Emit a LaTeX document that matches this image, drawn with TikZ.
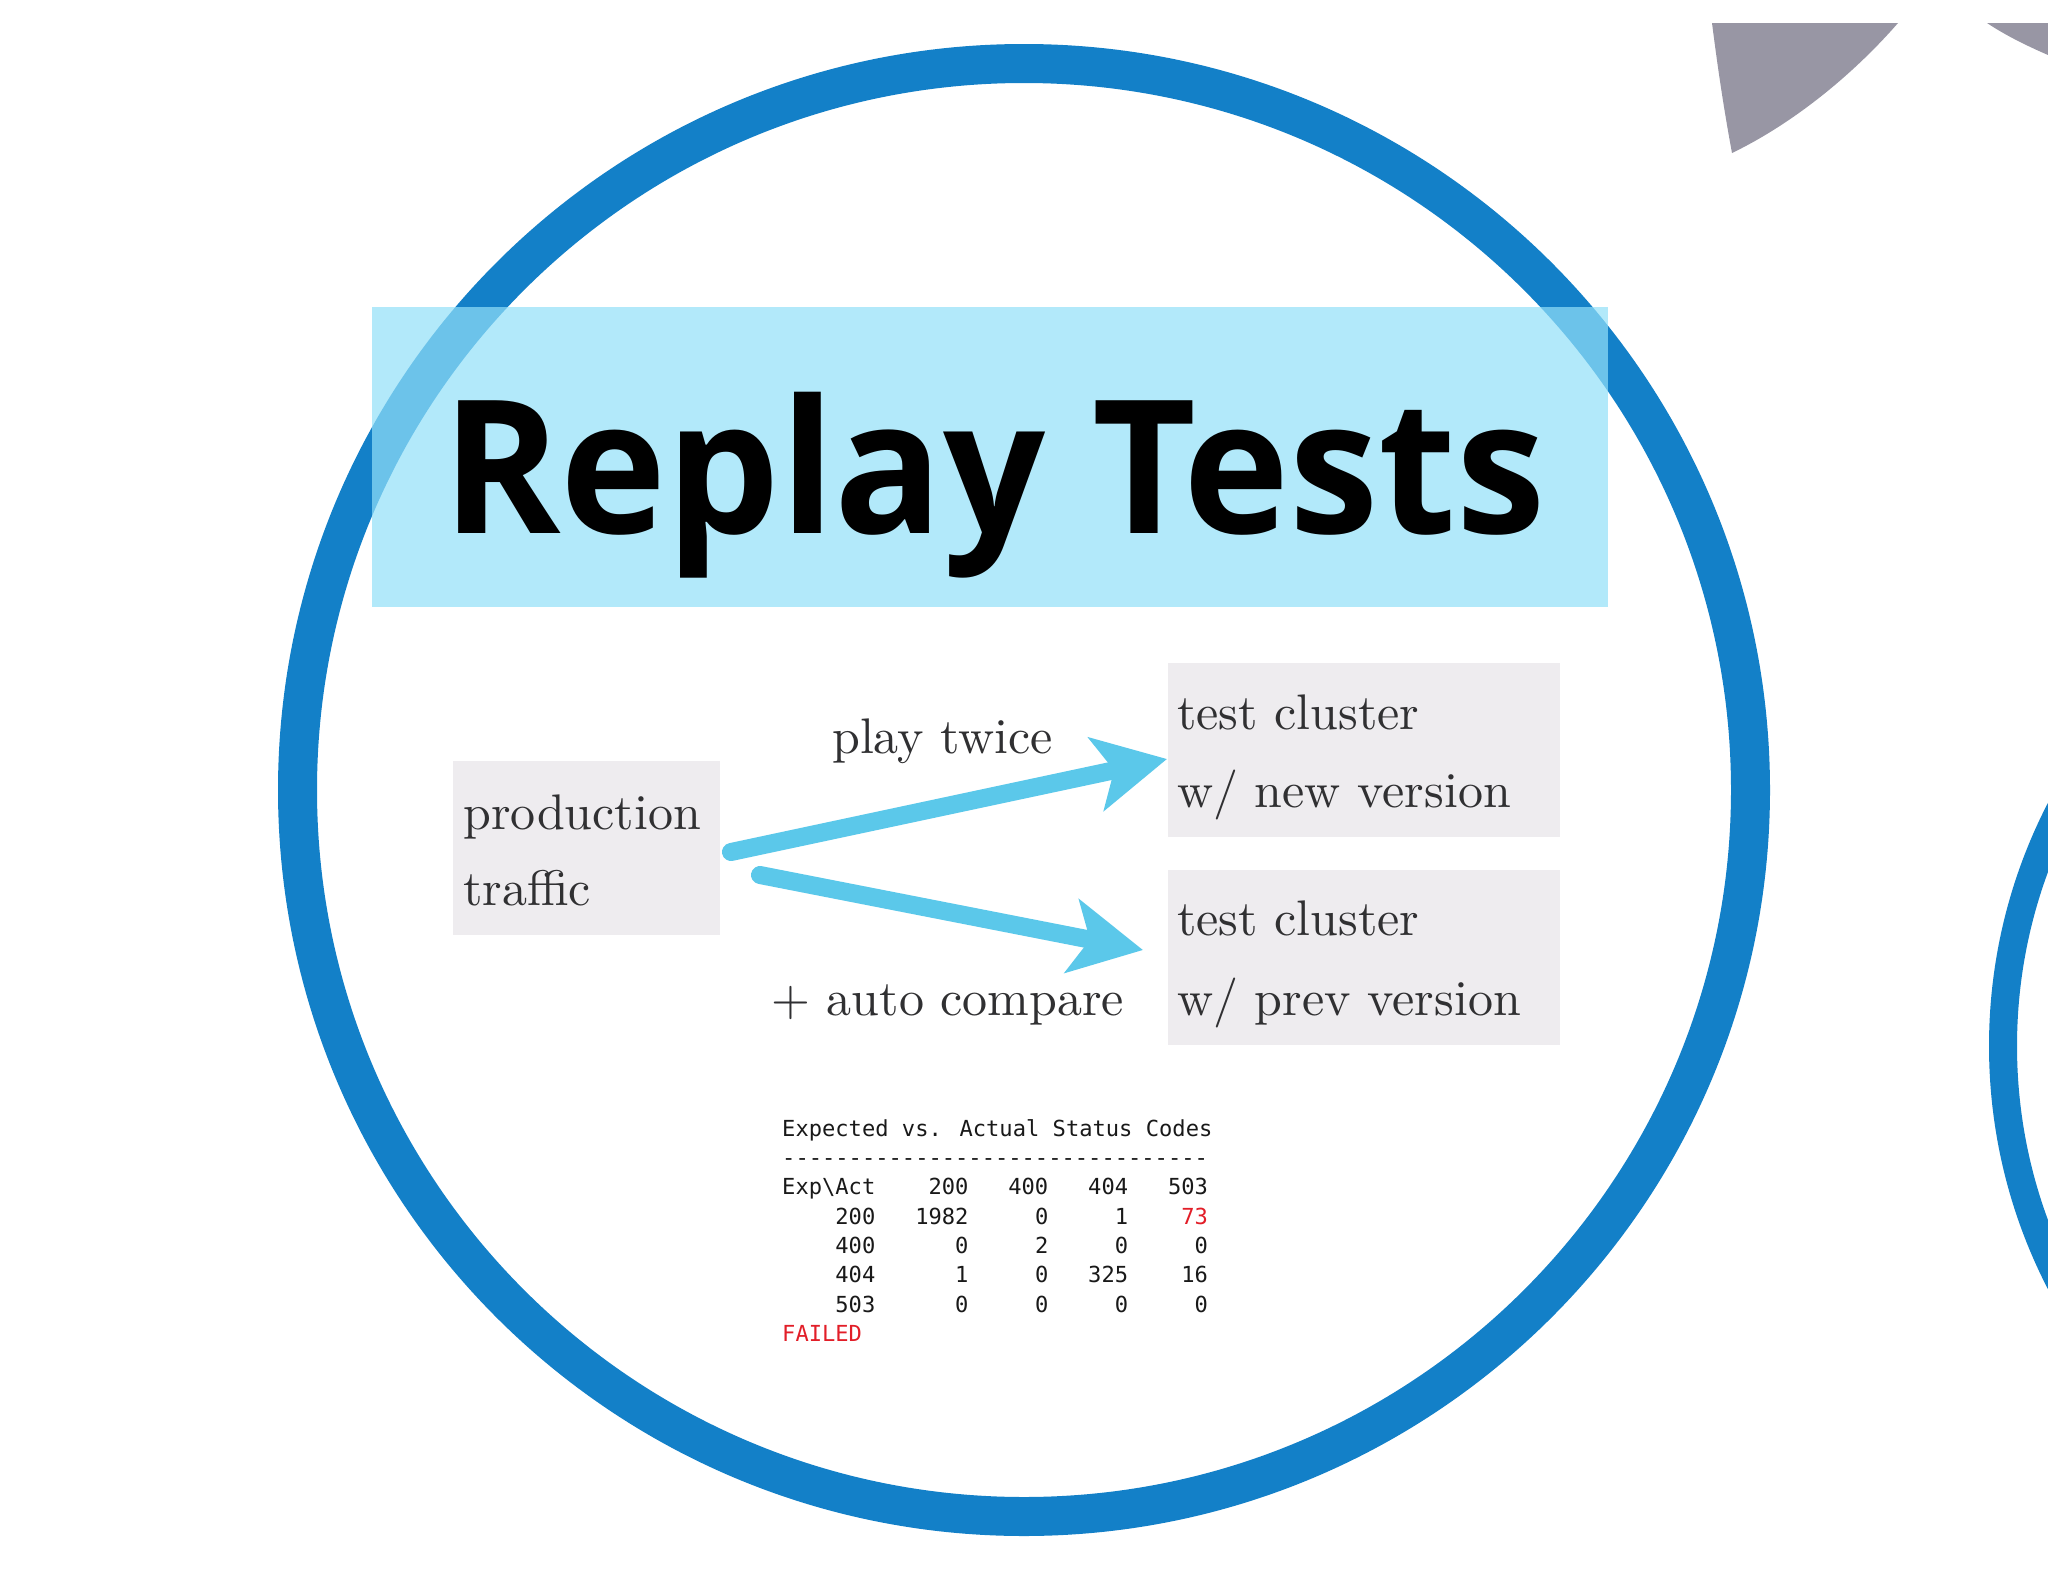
\documentclass[tikz,border=0pt]{standalone}
\usepackage{fontspec}
\newfontfamily\titlefont{Open Sans}
\newfontfamily\monof{DejaVu Sans Mono}[Ligatures=TeXOff]
\newfontfamily\serifx{lmroman10-regular.otf}
\usetikzlibrary{arrows.meta}
\definecolor{ringblue}{RGB}{19,128,200}
\definecolor{titlefill}{RGB}{146,224,249}
\definecolor{boxgray}{RGB}{238,236,239}
\definecolor{arrowcyan}{RGB}{91,200,234}
\definecolor{shapegray}{RGB}{152,150,164}
\definecolor{txtgray}{RGB}{48,48,50}
\definecolor{failred}{RGB}{226,30,40}
\tikzset{
  clusterbox/.style={fill=boxgray, draw=none, inner sep=0pt, anchor=north west},
  lbl/.style={anchor=base west, inner sep=0pt, text=txtgray, font=\serifx\fontsize{50}{60}\selectfont},
  tbl/.style={anchor=base west, inner sep=0pt, text=black!90, font=\monof\fontsize{22.1}{29}\selectfont},
  bigarrow/.style={draw=arrowcyan, line width=18pt, line cap=round,
    -{Stealth[length=72pt, width=74pt, inset=18pt, fill=arrowcyan]}},
}
\begin{document}
\begin{tikzpicture}[x=1pt,y=-1pt]
\useasboundingbox (0,0) rectangle (2048,1582);
\fill[white] (0,0) rectangle (2048,1582);
% grey shapes at top right
\fill[shapegray] (1712,23) .. controls (1718,70) and (1724,110) .. (1732,153)
  .. controls (1790,125) and (1850,78) .. (1898,23) -- cycle;
\fill[shapegray] (1987,23) .. controls (2005,35) and (2025,45) .. (2048,55) -- (2048,23) -- cycle;
% circles
\draw[ringblue, line width=28pt] (2519,1046) circle[radius=516];
\draw[ringblue, line width=39pt] (1024,790) circle[radius=726.5];
% title
\node[fill=titlefill, fill opacity=0.7, minimum width=1236pt, minimum height=300pt,
  inner sep=0pt, anchor=north west] (titlebox) at (372,307) {};
\node[anchor=base, inner sep=0pt, text=black, xscale=0.965,
  font=\titlefont\bfseries\fontsize{186}{186}\selectfont] (title) at (994,533) {Replay Tests};
% boxes
\node[clusterbox, minimum width=267pt, minimum height=174pt] (prod) at (453,761) {};
\node[clusterbox, minimum width=392pt, minimum height=174pt] (newc) at (1168,663) {};
\node[clusterbox, minimum width=392pt, minimum height=175pt] (prevc) at (1168,870) {};
\node[lbl] (prod1) at (463,829) {production};
\node[lbl] (prod2) at (463,905) {traffic};
\node[lbl] (new1) at (1177,729) {test cluster};
\node[lbl] (new2) at (1177,807) {w/ new version};
\node[lbl] (prev1) at (1177,935) {test cluster};
\node[lbl] (prev2) at (1177,1015) {w/ prev version};
\node[lbl] (play) at (832,753) {play twice};
\node[lbl] (auto) at (771,1015) {+ auto compare};
% arrows
\coordinate (a1s) at (731,852);
\coordinate (a1e) at (1167,759);
\coordinate (a2s) at (760,875);
\coordinate (a2e) at (1143,950);
\draw[bigarrow] (a1s) -- (a1e);
\draw[bigarrow] (a2s) -- (a2e);
% table
\node[tbl] (t0) at (782,1136) {Expected vs. Actual Status Codes};
\node[tbl] (t1) at (782,1165) {--------------------------------};
\node[tbl] (t2) at (782,1194) {Exp\textbackslash Act~~~~200~~~400~~~404~~~503};
\node[tbl] (t3) at (782,1224) {~~~~200~~~1982~~~~~0~~~~~1~~~~\textcolor{failred}{73}};
\node[tbl] (t4) at (782,1253) {~~~~400~~~~~~0~~~~~2~~~~~0~~~~~0};
\node[tbl] (t5) at (782,1282) {~~~~404~~~~~~1~~~~~0~~~325~~~~16};
\node[tbl] (t6) at (782,1312) {~~~~503~~~~~~0~~~~~0~~~~~0~~~~~0};
\node[tbl, text=failred] (t7) at (782,1341) {FAILED};
\end{tikzpicture}
\end{document}
